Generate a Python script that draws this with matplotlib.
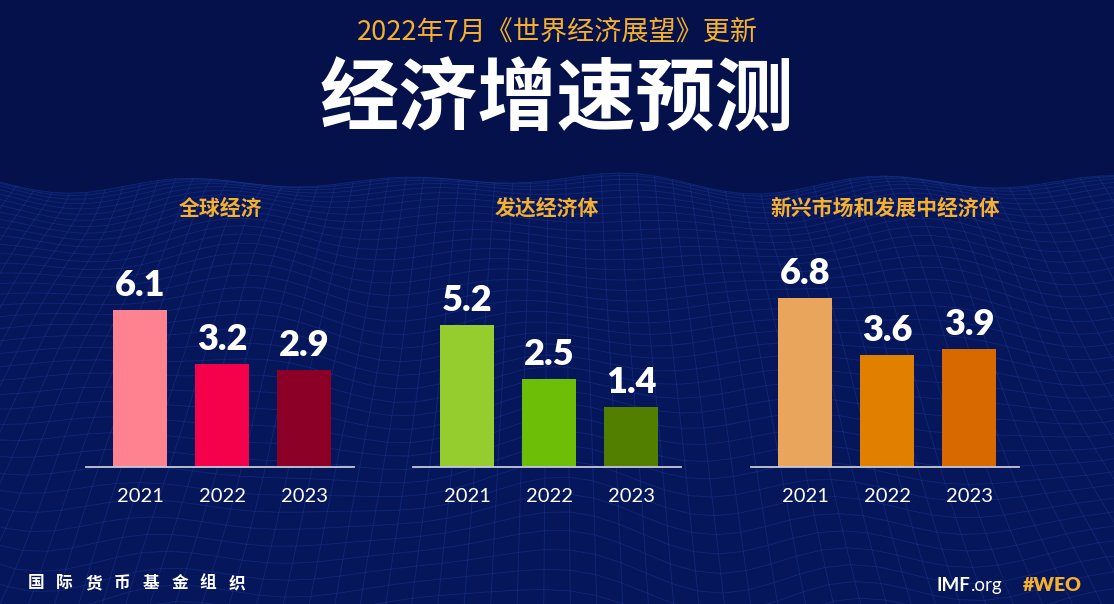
import numpy as np
import matplotlib.pyplot as plt

years = ["2021", "2022", "2023"]
panel_titles = ["全球经济", "发达经济体", "新兴市场和发展中经济体"]
growth_world = [6.1, 3.2, 2.9]
growth_advanced = [5.2, 2.5, 1.4]
growth_emerging = [6.8, 3.6, 3.9]
colors_world = ["#ff8290", "#f5004a", "#8c0028"]
colors_advanced = ["#95cc2e", "#6cbf06", "#537f00"]
colors_emerging = ["#e9a55c", "#e07f00", "#d76900"]

W, H = 1114, 604
bg = "#04114a"
orange = "#f5b02e"
cjk = ["Noto Sans CJK SC", "DejaVu Sans"]
latin = ["Lato", "DejaVu Sans"]

fig = plt.figure(figsize=(W / 100, H / 100), dpi=100)
fig.patch.set_facecolor(bg)

# background axes in pixel coordinates
ax_bg = fig.add_axes([0, 0, 1, 1])
ax_bg.set_xlim(0, W)
ax_bg.set_ylim(H, 0)
ax_bg.axis("off")

# decorative wire mesh
t = np.linspace(0, 1, 40)[:, None]
xb = np.linspace(-400, W + 400, 74)[None, :]
vy = -700.0
yrow = 182 + (H + 40 - 182) * t ** 1.6
X = W / 2 + (xb - W / 2) * (yrow - vy) / (H - vy)
Y = (yrow + (7 + 18 * t) * np.sin(X / 70 + 4 * t) * np.cos(X / 210 - 3 * t)
     + 6 * np.sin(X / 37 - 6 * t))
ax_bg.fill_between(X[0], Y[0], H, color="#06165a", zorder=0)
for i in range(X.shape[0]):
    ax_bg.plot(X[i], Y[i], color="#1f3fa0", lw=0.6, alpha=0.42, zorder=1)
for j in range(X.shape[1]):
    ax_bg.plot(X[:, j], Y[:, j], color="#1f3fa0", lw=0.6, alpha=0.42, zorder=1)

# titles
ax_bg.text(W / 2, 32, "2022年7月《世界经济展望》更新", color=orange, fontsize=19.5,
           family=cjk, ha="center", va="center")
ax_bg.text(W / 2, 101, "经济增速预测", color="white", fontsize=57, fontweight="black",
           family=cjk, ha="center", va="center")

# footer
for k, ch in enumerate("国际货币基金组织"):
    ax_bg.text(36 + k * 28.7, 583, ch, color="white", fontsize=12, fontweight="bold",
               family=cjk, ha="center", va="center")
t1 = ax_bg.text(937, 591, "IMF", color="white", fontsize=13.5, fontweight="bold",
                family=latin, ha="left", va="baseline")
ax_bg.annotate(".org", xy=(1, 0), xycoords=t1, color="white", fontsize=13.5,
               family=latin, ha="left", va="bottom")
ax_bg.text(1082, 591, "#WEO", color=orange, fontsize=14, fontweight="heavy",
           family=latin, ha="right", va="baseline")

fwd = lambda v: np.sign(v) * np.abs(v) ** 0.65
inv = lambda v: np.sign(v) * np.abs(v) ** (1 / 0.65)

series = [growth_world, growth_advanced, growth_emerging]
colors = [colors_world, colors_advanced, colors_emerging]
lefts = [86, 413, 751]
base, height, width = 467, 217, 268

for left, title, vals, cols in zip(lefts, panel_titles, series, colors):
    ax = fig.add_axes([left / W, (H - base) / H, width / W, height / H])
    ax.patch.set_alpha(0)
    ax.set_yscale("function", functions=(fwd, inv))
    x = np.arange(len(years))
    ax.bar(x, vals, width=0.66, color=cols)
    for xi, v in zip(x, vals):
        ax.annotate(f"{v}", (xi, v), xytext=(0, 10), textcoords="offset points",
                    ha="center", va="baseline", color="white", fontsize=26,
                    fontweight="heavy", family=latin)
    ax.set_xlim(-0.66, 2.61)
    ax.set_ylim(0, 10)
    ax.set_xticks(x)
    ax.set_xticklabels(years, color="white", fontsize=14.5, family=latin)
    ax.tick_params(axis="x", length=0, pad=15)
    ax.set_yticks([])
    ax.minorticks_off()
    for s in ["top", "left", "right"]:
        ax.spines[s].set_visible(False)
    ax.spines["bottom"].set_color("#c5c8d8")
    ax.spines["bottom"].set_linewidth(1.3)
    ax_bg.text(left + width / 2, 208, title, color=orange, fontsize=15,
               fontweight="bold", family=cjk, ha="center", va="center")

plt.savefig("out.png", dpi=100, facecolor=fig.get_facecolor())
plt.close()
